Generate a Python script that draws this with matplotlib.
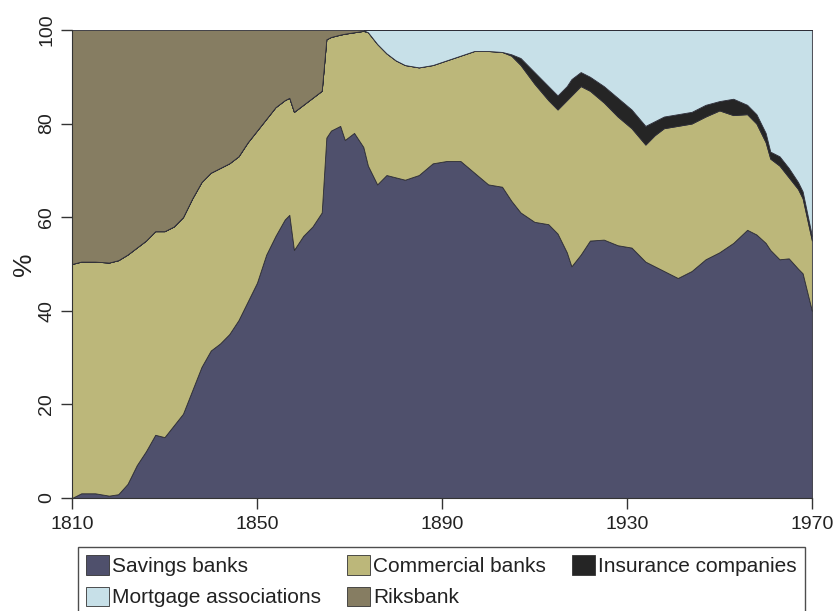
import matplotlib
matplotlib.use("Agg")
import matplotlib.pyplot as plt
from matplotlib.patches import Patch

plt.rcParams["font.family"] = ["Liberation Sans", "DejaVu Sans"]

years = [1810, 1812, 1815, 1818, 1820, 1822, 1824, 1826, 1828, 1830, 1832, 1834, 1836, 1838,
         1840, 1842, 1844, 1846, 1848, 1850, 1852, 1854, 1856, 1857, 1858, 1860, 1862, 1864,
         1865, 1866, 1868, 1869, 1871, 1873, 1874, 1876, 1878, 1880, 1882, 1885, 1888, 1891,
         1894, 1897, 1900, 1903, 1905, 1907, 1910, 1913, 1915, 1917, 1918, 1920, 1922, 1925,
         1928, 1931, 1934, 1936, 1938, 1941, 1944, 1947, 1950, 1953, 1956, 1958, 1960, 1961,
         1963, 1965, 1967, 1968, 1970]

# shares of total, %
savings = [0, 1, 1, 0.5, 0.8, 3, 7, 10, 13.5, 13, 15.5, 18, 23, 28,
           31.5, 33, 35, 38, 42, 46, 52, 56, 59.5, 60.5, 53, 56, 58, 61,
           77, 78.5, 79.5, 76.5, 78, 75, 71, 67, 69, 68.5, 68, 69, 71.5, 72,
           72, 69.5, 67, 66.5, 63.5, 61, 59, 58.5, 56.5, 52.5, 49.5, 52, 55, 55.2,
           54, 53.5, 50.5, 49.5, 48.5, 47, 48.5, 51, 52.5, 54.5, 57.3, 56.3, 54.5, 53,
           51, 51.2, 49, 48, 40]
commercial = [50, 49.5, 49.5, 49.8, 50, 49, 46.5, 45, 43.5, 44, 42.5, 42, 41, 39.5,
              38, 37.5, 36.5, 35, 34, 32.5, 29, 27.5, 25.5, 25, 29.5, 28, 27.5, 26,
              21, 20, 19.5, 22.7, 21.5, 24.8, 28.5, 30, 26, 25, 24.5, 23, 21, 21.5,
              22.5, 26, 28.5, 28.8, 31, 31.5, 29.5, 26.5, 26.5, 32.5, 36.5, 36, 32, 29.3,
              27.5, 25.5, 25, 28, 30.5, 32.5, 31.5, 30.5, 30.3, 27.3, 24.7, 23.7, 21.5, 19.5,
              20, 17.3, 17, 16, 15]
insurance = [0] * 46 + [0.3, 1.5, 2.5, 3, 3, 3, 3.5, 3, 3, 3.5,
                        4, 4, 4, 3, 2.5, 2.5, 2.5, 2.5, 2, 3.5, 2, 2, 2, 1.5,
                        2, 2, 1.5, 1.5, 1]
mortgage = [0] * 34 + [0.5, 3, 5, 6.5, 7.5, 8, 7.5, 6.5,
                       5.5, 4.5, 4.5, 4.7, 5.2, 6, 9, 12, 14, 12, 10.5, 9, 10, 12,
                       14.5, 17, 20.5, 19.5, 18.5, 18, 17.5, 16, 15.2, 14.7, 16, 18, 22, 26,
                       27, 29.5, 32.5, 34.5, 44]
riksbank = [50, 49.5, 49.5, 49.7, 49.2, 48, 46.5, 45, 43, 43, 42, 40, 36, 32.5,
            30.5, 29.5, 28.5, 27, 24, 21.5, 19, 16.5, 15, 14.5, 17.5, 16, 14.5, 13,
            2, 1.5, 1, 0.8, 0.5, 0.2] + [0] * 41

labels = ["Savings banks", "Commercial banks", "Insurance companies",
          "Mortgage associations", "Riksbank"]
colors = ["#4f506c", "#bcb77a", "#252525", "#c7e0e8", "#867d62"]

fig = plt.figure(figsize=(8.37, 6.11), dpi=100)
ax = fig.add_axes([0.086, 0.185, 0.884, 0.766])

ax.stackplot(years, savings, commercial, insurance, mortgage, riksbank,
             colors=colors, edgecolor="#2e2e38", linewidth=0.6)

ax.set_xlim(1810, 1970)
ax.set_ylim(0, 100)
ax.set_xticks([1810, 1850, 1890, 1930, 1970])
ax.set_yticks([0, 20, 40, 60, 80, 100])
ax.tick_params(labelsize=14, length=8, width=1, color="#333333", labelcolor="#222222")
ax.tick_params(axis="x", pad=5)
ax.tick_params(axis="y", labelrotation=90, pad=4)
for lab in ax.get_yticklabels():
    lab.set_va("center")
ax.set_ylabel("%", fontsize=19, labelpad=2, color="#222222")
ax.spines["top"].set_visible(False)
ax.spines["right"].set_visible(False)
for s in ("left", "bottom"):
    ax.spines[s].set_color("#333333")

handles = [Patch(facecolor=c, edgecolor="#333333", linewidth=0.6) for c in colors]
order = [0, 3, 1, 4, 2]
leg = fig.legend([handles[i] for i in order], [labels[i] for i in order],
                 loc="upper left", bbox_to_anchor=(0.0932, 0.1047), ncol=3,
                 fontsize=15, frameon=True, fancybox=False, edgecolor="#222222",
                 handlelength=1.1, handleheight=1.05, handletextpad=0.15,
                 columnspacing=1.25, borderpad=0.4, labelspacing=0.5,
                 borderaxespad=0)
leg.get_frame().set_linewidth(1.0)
for t in leg.get_texts():
    t.set_color("#222222")

fig.savefig("out.png", dpi=100)
